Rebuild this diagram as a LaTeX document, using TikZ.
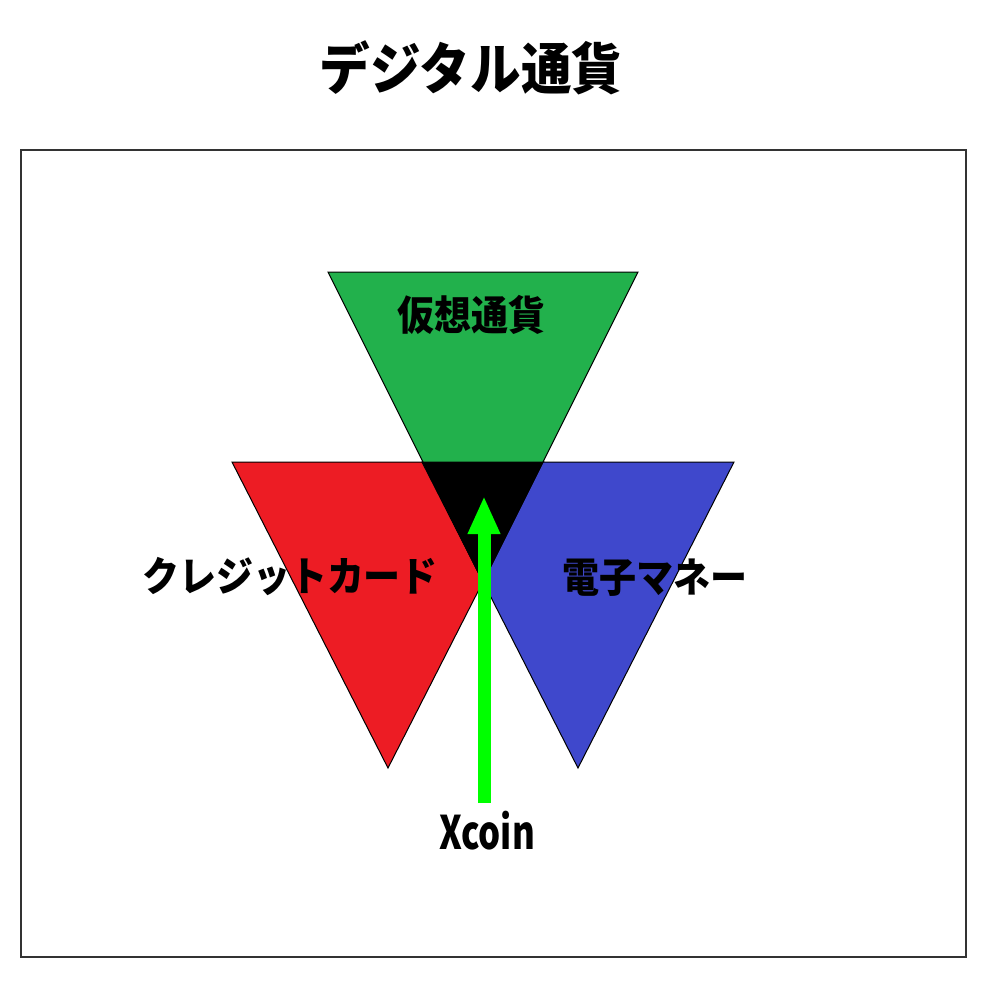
\documentclass[tikz,border=0pt]{standalone}
\usepackage{fontspec}
\setmainfont{Noto Sans CJK JP}[BoldFont={* Black}]
\usetikzlibrary{arrows.meta}
\definecolor{paintgreen}{HTML}{22B14C}
\definecolor{paintred}{HTML}{ED1C24}
\definecolor{paintblue}{HTML}{3F48CC}
\definecolor{framegray}{HTML}{333333}
\tikzset{
  tri/.style={draw=black,line width=0.5pt,line join=miter},
  lbl/.style={inner sep=0pt,font=\fontsize{18.5pt}{20pt}\selectfont\bfseries}
}
\begin{document}
\begin{tikzpicture}[x=0.5pt,y=-0.5pt]
\useasboundingbox (0,0) rectangle (987,987);
\fill[white] (0,0) rectangle (987,987);
% Title
\node[inner sep=0pt,font=\fontsize{25.3pt}{27pt}\selectfont\bfseries] (title) at (471,68) {\scalebox{1}[1.1]{デジタル通貨}};
\draw[framegray,line width=0.6pt] (21,150) rectangle (966,957);

% triangles
\fill[tri,fill=paintred] (232,462) -- (544,462) -- (388,768) -- cycle;
\fill[tri,fill=paintblue] (422,462) -- (734,462) -- (578,768) -- cycle;
\fill[tri,fill=paintgreen] (328,272) -- (638,272) -- (483,582) -- cycle;
\fill[tri,fill=black] (423,462) -- (543,462) -- (483,582) -- cycle;

% labels
\node[lbl] (kaso) at (471,315) {\scalebox{1}[1.1]{仮想通貨}};
\node[lbl] (credit) at (290,577) {\scalebox{1}[1.1]{クレジットカード}};
\node[lbl] (denshi) at (655,578) {\scalebox{1}[1.1]{電子マネー}};

% Xcoin
\node[inner sep=0pt,font=\fontsize{22pt}{24pt}\selectfont\bfseries] (xcoin) at (487,831) {\scalebox{0.79}[1.05]{Xcoin}};
\coordinate (arrowstart) at (484,803);
\coordinate (arrowtip) at (484,496);
\draw[-{Triangle[width=15pt,length=19pt]},line width=6.5pt,color=green] (arrowstart) -- (arrowtip);
\end{tikzpicture}
\end{document}
